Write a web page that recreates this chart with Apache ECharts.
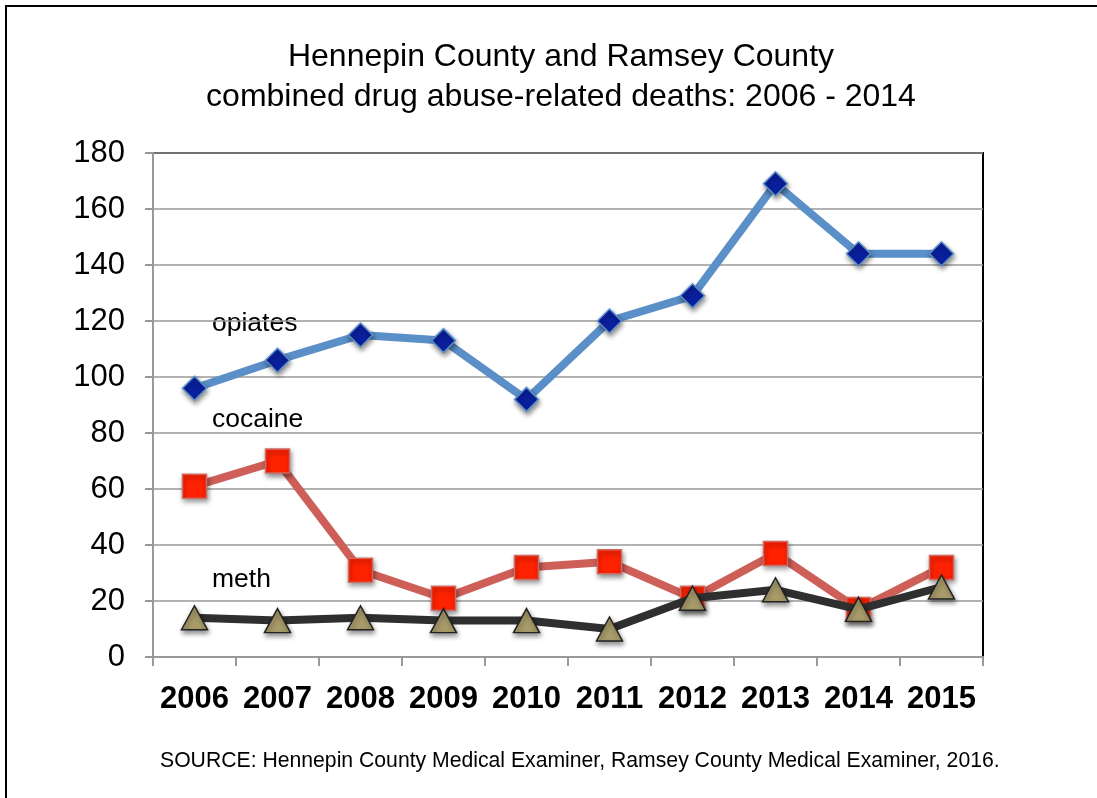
<!DOCTYPE html>
<html>
<head>
<meta charset="utf-8">
<script src="https://cdn.jsdelivr.net/npm/echarts@6/dist/echarts.min.js"></script>
<style>
  html, body { margin: 0; padding: 0; background: #fff; }
  #chart { width: 1097px; height: 798px; }
</style>
</head>
<body>
<div id="chart"></div>
<script>
const years = ['2006', '2007', '2008', '2009', '2010', '2011', '2012', '2013', '2014', '2015'];
const opiates = [96, 106, 115, 113, 92, 120, 129, 169, 144, 144];
const cocaine = [61, 70, 31, 21, 32, 34, 21, 37, 17, 32];
const meth = [14, 13, 14, 13, 13, 10, 21, 24, 17, 25];
const yTicks = [0, 20, 40, 60, 80, 100, 120, 140, 160, 180];

const font = 'Liberation Sans, Arial, sans-serif';
const chart = echarts.init(document.getElementById('chart'), null, { renderer: 'canvas' });

const shadow = { shadowColor: 'rgba(0,0,0,0.45)', shadowBlur: 5, shadowOffsetX: 1, shadowOffsetY: 3 };

chart.setOption({
  animation: false,
  backgroundColor: '#fff',
  title: {
    text: 'Hennepin County and Ramsey County\ncombined drug abuse-related deaths: 2006 - 2014',
    left: 556,
    top: 32,
    textAlign: 'center',
    textStyle: { fontFamily: font, fontSize: 32, fontWeight: 'normal', color: '#000', lineHeight: 40 },
  },
  grid: {
    left: 153, right: 1097 - 983, top: 153, bottom: 798 - 657,
    show: true, borderColor: '#000', borderWidth: 2, backgroundColor: 'transparent',
  },
  xAxis: {
    type: 'category',
    data: years,
    boundaryGap: true,
    axisLine: { lineStyle: { color: '#999', width: 2 } },
    axisTick: { show: true, interval: 0, length: 9, lineStyle: { color: '#999', width: 2 } },
    axisLabel: { interval: 0, fontFamily: font, fontSize: 31, fontWeight: 'bold', color: '#000', margin: 27 },
  },
  yAxis: {
    type: 'value',
    min: 0, max: 180, interval: 20,
    axisLine: { show: true, lineStyle: { color: '#999', width: 2 } },
    axisTick: { show: true, length: 8, lineStyle: { color: '#999', width: 2 } },
    splitLine: { lineStyle: { color: '#999', width: 1.5 } },
    axisLabel: {
      fontFamily: font, fontSize: 31, color: '#000', margin: 28,
      formatter: (v) => (yTicks.includes(v) ? String(v) : ''),
    },
  },
  series: [
    {
      name: 'opiates', type: 'line', data: opiates,
      lineStyle: { color: '#5a8fc8', width: 8 },
      symbol: 'diamond', symbolSize: 24,
      itemStyle: { color: '#0a1f9e', borderColor: '#5a8fc8', borderWidth: 1.5, ...shadow },
      z: 3,
    },
    {
      name: 'cocaine', type: 'line', data: cocaine,
      lineStyle: { color: '#cd5f58', width: 8 },
      symbol: 'rect', symbolSize: 24,
      itemStyle: { color: '#ff2200', borderColor: '#d26a64', borderWidth: 1.5, ...shadow },
      z: 4,
    },
    {
      name: 'meth', type: 'line', data: meth,
      lineStyle: { color: '#2f2f2f', width: 8 },
      symbol: 'triangle', symbolSize: [26, 24],
      itemStyle: { color: '#a99c6a', borderColor: '#222', borderWidth: 1.5, ...shadow },
      z: 5,
    },
  ],
  graphic: [
    { type: 'rect', shape: { x: 6, y: 6, width: 1200, height: 900 }, style: { fill: 'none', stroke: '#000', lineWidth: 2 }, silent: true, z: 100 },
    { type: 'text', left: 212, top: 310, style: { text: 'opiates', font: '26.5px ' + font, fill: '#000' } },
    { type: 'text', left: 212, top: 406, style: { text: 'cocaine', font: '26.5px ' + font, fill: '#000' } },
    { type: 'text', left: 212, top: 566, style: { text: 'meth', font: '26.5px ' + font, fill: '#000' } },
    { type: 'text', left: 160, top: 751, style: { text: 'SOURCE: Hennepin County Medical Examiner, Ramsey County Medical Examiner, 2016.', font: '21.2px ' + font, fill: '#000' } },
  ],
});
</script>
</body>
</html>
